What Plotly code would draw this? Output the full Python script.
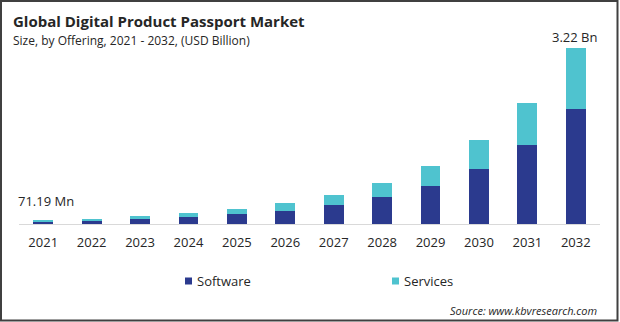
import plotly.graph_objects as go

# Market size by offering (USD billion)
years = ["2021", "2022", "2023", "2024", "2025", "2026",
         "2027", "2028", "2029", "2030", "2031", "2032"]
software = [0.050, 0.062, 0.100, 0.130, 0.190, 0.240,
            0.350, 0.500, 0.700, 1.000, 1.440, 2.100]
services = [0.0212, 0.035, 0.050, 0.075, 0.085, 0.150,
            0.180, 0.250, 0.360, 0.540, 0.780, 1.120]
series_names = ["Software", "Services"]
series_colors = ["#2B3A8E", "#4FC3CF"]
end_labels = ["71.19 Mn", "3.22 Bn"]

W, H = 620, 322
ML, MR, MT, MB = 19, 20, 38, 98
PW, PH = W - ML - MR, H - MT - MB
FONT = "Open Sans"


def px(x):
    return (x - ML) / PW


def py(y):
    return (H - MB - y) / PH


totals = [s + v for s, v in zip(software, services)]
last = len(years) - 1

fig = go.Figure()
for name, vals, col in zip(series_names, [software, services], series_colors):
    fig.add_trace(go.Bar(x=years, y=vals, name=name, marker_color=col,
                         marker_line_width=0, width=0.41, showlegend=False))

annotations = [
    dict(text="<b>Global Digital Product Passport Market</b>", x=px(11), y=py(21),
         xref="paper", yref="paper", xanchor="left", yanchor="middle",
         showarrow=False, font=dict(family=FONT, size=15, color="#262626")),
    dict(text="Size, by Offering, 2021 - 2032, (USD Billion)", x=px(11), y=py(40),
         xref="paper", yref="paper", xanchor="left", yanchor="middle",
         showarrow=False, font=dict(family=FONT, size=12, color="#262626")),
    # category axis: place labels by index of the first / last year
    dict(text=end_labels[0], x=0, y=totals[0], xref="x", yref="y",
         xanchor="center", yanchor="bottom", xshift=3, yshift=8, showarrow=False,
         font=dict(family=FONT, size=13, color="#262626")),
    dict(text=end_labels[1], x=last, y=totals[last], xref="x", yref="y",
         xanchor="center", yanchor="bottom", xshift=-1, yshift=0, showarrow=False,
         font=dict(family=FONT, size=13, color="#262626")),
    dict(text="<i>Source: www.kbvresearch.com</i>", x=px(599), y=py(310),
         xref="paper", yref="paper", xanchor="right", yanchor="middle",
         showarrow=False, font=dict(family=FONT, size=11, color="#262626")),
]

shapes = [
    dict(type="rect", xref="paper", yref="paper", x0=px(1), x1=px(617.5),
         y0=py(1), y1=py(320.5), line=dict(color="#404040", width=2),
         fillcolor="rgba(0,0,0,0)", layer="above"),
]

# Legend: colored square plus series name
legend_x = [185, 392]
for name, col, lx in zip(series_names, series_colors, legend_x):
    shapes.append(dict(type="rect", xref="paper", yref="paper",
                       x0=px(lx), x1=px(lx + 7), y0=py(277.5), y1=py(284.5),
                       fillcolor=col, line=dict(width=0)))
    annotations.append(dict(text=name, x=px(lx + 10), y=py(281),
                            xref="paper", yref="paper", xanchor="left",
                            yanchor="middle", showarrow=False,
                            font=dict(family=FONT, size=13, color="#262626")))

fig.update_layout(
    width=W, height=H,
    margin=dict(l=ML, r=MR, t=MT, b=MB, pad=0),
    paper_bgcolor="white", plot_bgcolor="white",
    barmode="stack",
    showlegend=False,
    xaxis=dict(type="category", range=[-0.5, last + 0.5],
               showline=True, linecolor="#d9d9d9", linewidth=1,
               showgrid=False, ticks="", tickfont=dict(family=FONT, size=13, color="#262626"),
               ticklabelstandoff=6),
    yaxis=dict(range=[0, 3.4], visible=False, showgrid=False, zeroline=False),
    annotations=annotations,
    shapes=shapes,
    font=dict(family=FONT),
)

fig.write_html("out.html")
